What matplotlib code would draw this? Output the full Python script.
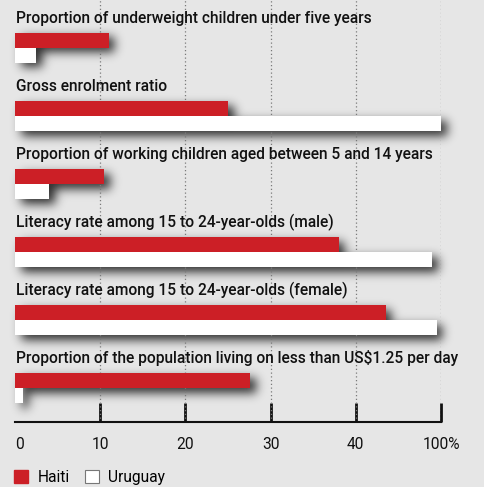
import matplotlib
matplotlib.use("Agg")
import matplotlib.pyplot as plt
from matplotlib.patches import Patch
import numpy as np

categories = [
    "Proportion of underweight children under five years",
    "Gross enrolment ratio",
    "Proportion of working children aged between 5 and 14 years",
    "Literacy rate among 15 to 24-year-olds (male)",
    "Literacy rate among 15 to 24-year-olds (female)",
    "Proportion of the population living on less than US$1.25 per day",
]
# values in chart-scale units (last tick = 100%)
haiti = [11.0, 25.0, 10.5, 38.0, 43.5, 27.6]
uruguay = [2.5, 50.0, 4.0, 49.0, 49.5, 0.9]
tick_vals = [0, 10, 20, 30, 40, 50]
tick_labels = ["0", "10", "20", "30", "40", "100%"]
series_names = ["Haiti", "Uruguay"]

BG = "#e6e6e6"
RED = "#cc1f26"
WHITE = "#ffffff"
FONT = ["Roboto", "DejaVu Sans"]
FS = 11.2

W, H = 485, 487
fig = plt.figure(figsize=(W / 100, H / 100), dpi=100, facecolor=BG)
ax = fig.add_axes([15 / W, 65 / H, (441 - 15) / W, 422 / H])
ax.set_facecolor(BG)

row_px = 68.1
ylo = (422 - 40) / row_px
yhi = -40 / row_px
ax.set_ylim(ylo, yhi)
ax.set_xlim(0, 50)
bh = 15 / row_px

ypos = np.arange(len(categories))
for i, cat in enumerate(categories):
    ax.text(0.1, ypos[i] - 22 / row_px, cat, fontsize=FS, fontweight="medium",
            family=FONT, color="#111111", va="center", ha="left", zorder=5)

bars_u = ax.barh(ypos + bh, uruguay, height=bh, color=WHITE, linewidth=0, zorder=3)
bars_h = ax.barh(ypos, haiti, height=bh, color=RED, linewidth=0, zorder=3.5)

# ---- soft drop shadow built from the bar geometry ----
px_per_x = (441 - 15) / 50.0
px_per_y = row_px
x0, x1 = -3.0, 56.0
nx = int(round((x1 - x0) * px_per_x))
ny = int(round((ylo - yhi) * px_per_y))
mask = np.zeros((ny, nx))
dx_px, dy_px = 6, 5
for b in list(bars_u) + list(bars_h):
    bx, by, bw, bhh = b.get_x(), b.get_y(), b.get_width(), b.get_height()
    c0 = int(round((bx - x0) * px_per_x)) + dx_px
    c1 = int(round((bx + bw - x0) * px_per_x)) + dx_px
    r0 = int(round((by - yhi) * px_per_y)) + dy_px
    r1 = int(round((by + bhh - yhi) * px_per_y)) + dy_px
    mask[max(r0, 0):min(r1, ny), max(c0, 0):min(c1, nx)] = 1.0
sigma = 5.0
k = np.arange(-15, 16)
kern = np.exp(-0.5 * (k / sigma) ** 2)
kern /= kern.sum()
blur = np.apply_along_axis(lambda r: np.convolve(r, kern, mode="same"), 1, mask)
blur = np.apply_along_axis(lambda c: np.convolve(c, kern, mode="same"), 0, blur)
rgba = np.zeros((ny, nx, 4))
rgba[..., 3] = np.clip(blur, 0, 1) * 0.8
ax.imshow(rgba, extent=(x0, x1, ylo, yhi), aspect="auto", zorder=2,
          interpolation="bilinear", clip_on=False)
ax.set_xlim(0, 50)
ax.set_ylim(ylo, yhi)

for v in tick_vals[1:]:
    ax.axvline(v, color="#7a7a7a", lw=0.9, ls=(0, (1, 2)), zorder=2.5)

for s in ["top", "right", "left"]:
    ax.spines[s].set_visible(False)
ax.spines["bottom"].set_linewidth(1.5)
ax.spines["bottom"].set_color("#111111")
ax.set_yticks([])
ax.set_xticks(tick_vals)
ax.set_xticklabels(tick_labels, family=FONT, fontsize=FS, color="#111111")
ax.tick_params(axis="x", direction="in", length=14, width=2, color="#111111", pad=11)
ax.xaxis.get_major_ticks()[0].tick1line.set_visible(False)
for lbl in ax.get_xticklabels():
    if lbl.get_text() == "0":
        lbl.set_ha("left")

handles = [Patch(facecolor=RED, edgecolor=RED, label=series_names[0]),
           Patch(facecolor=WHITE, edgecolor="#777777", lw=0.8, label=series_names[1])]
fig.legend(handles=handles, loc="lower left", bbox_to_anchor=(0 / W, -12 / H), ncol=2,
           frameon=False, handlelength=0.9, handleheight=0.9, handletextpad=0.6,
           columnspacing=1.0, prop={"family": FONT, "size": FS})

fig.savefig("out.png", dpi=100, facecolor=BG)
